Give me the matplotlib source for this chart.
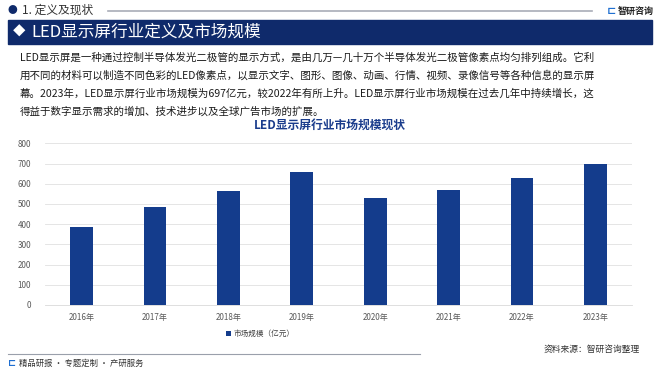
import matplotlib
matplotlib.use("Agg")
import matplotlib.pyplot as plt
from matplotlib.patches import Rectangle

plt.rcParams["font.family"] = ["Noto Sans CJK SC", "DejaVu Sans"]

years = ["2016年", "2017年", "2018年", "2019年", "2020年", "2021年", "2022年", "2023年"]
market_size = [384, 487, 566, 657, 530, 571, 630, 697]
y_ticks = [0, 100, 200, 300, 400, 500, 600, 700, 800]

section_label = "1. 定义及现状"
banner_title = "LED显示屏行业定义及市场规模"
chart_title = "LED显示屏行业市场规模现状"
legend_label = "市场规模（亿元）"
source_note = "资料来源：智研咨询整理"
footer_note = "精品研报 · 专题定制 · 产研服务"
body_lines = [
    "LED显示屏是一种通过控制半导体发光二极管的显示方式，是由几万—几十万个半导体发光二极管像素点均匀排列组成。它利",
    "用不同的材料可以制造不同色彩的LED像素点，以显示文字、图形、图像、动画、行情、视频、录像信号等各种信息的显示屏",
    "幕。2023年，LED显示屏行业市场规模为697亿元，较2022年有所上升。LED显示屏行业市场规模在过去几年中持续增长，这",
    "得益于数字显示需求的增加、技术进步以及全球广告市场的扩展。",
]

NAVY = "#0f2a6b"
BAR = "#143c8c"
W, H = 660, 371

fig = plt.figure(figsize=(W / 100, H / 100), dpi=100)


def fx(px):
    return px / W


def fy(py):
    return 1 - py / H


# header
fig.text(fx(8), fy(10), "●", fontsize=7, color=NAVY, va="center")
fig.text(fx(22), fy(10), section_label, fontsize=8.5, color="#333333", va="center")
fig.add_artist(plt.Line2D([fx(108), fx(592)], [fy(11), fy(11)], color="#a9adb8", lw=1.2))
fig.text(fx(611), fy(11), "⊏", fontsize=8, color="#1f6fd1", va="center", ha="center", weight="bold")
fig.text(fx(618), fy(11), "智研咨询", fontsize=6.5, color="#222222", va="center", weight="bold")

# banner
fig.add_artist(Rectangle((fx(8), fy(44)), fx(644), 24 / H, color=NAVY, transform=fig.transFigure))
fig.text(fx(19), fy(32), "◆", fontsize=9, color="white", va="center", ha="center")
fig.text(fx(31), fy(32), banner_title, fontsize=12, color="white", va="center")

# body text
for i, line in enumerate(body_lines):
    fig.text(fx(20), fy(57 + i * 18.2), line, fontsize=7.55, color="#1a1a1a", va="center")

# chart
ax = fig.add_axes([fx(45), fy(305), fx(632 - 45), (305 - 143.3) / H])
x = range(len(years))
ax.bar(x, market_size, width=0.31, color=BAR, label=legend_label, zorder=3)
ax.set_ylim(0, 800)
ax.set_xlim(-0.5, len(years) - 0.5)
ax.set_yticks(y_ticks)
ax.set_xticks(list(x))
ax.set_xticklabels(years)
ax.tick_params(axis="both", length=0, labelsize=5.8, colors="#595959")
ax.tick_params(axis="y", pad=10)
ax.tick_params(axis="x", pad=6)
ax.grid(axis="y", color="#e0e0e0", lw=0.6, zorder=0)
for s in ["top", "right", "left"]:
    ax.spines[s].set_visible(False)
ax.spines["bottom"].set_color("#d9d9d9")
ax.spines["bottom"].set_linewidth(0.6)

fig.text(0.5, fy(125), chart_title, fontsize=8.5, color="#1a3c8c", weight="bold", ha="center", va="center")

fig.legend(loc="center", bbox_to_anchor=(fx(260), fy(334)), fontsize=5.5, frameon=False,
           handlelength=0.7, handleheight=0.7, handletextpad=0.3, labelcolor="#404040")

# footer
fig.add_artist(plt.Line2D([fx(8), fx(420)], [fy(354), fy(354)], color="#9aa0ab", lw=0.8))
fig.text(fx(640), fy(349), source_note, fontsize=6.3, color="#333333", ha="right", va="center")
fig.text(fx(8), fy(363), "⊏", fontsize=7, color="#1f6fd1", va="center", weight="bold")
fig.text(fx(19), fy(363), footer_note, fontsize=6, color="#333333", va="center")

fig.savefig("out.png", dpi=100)
